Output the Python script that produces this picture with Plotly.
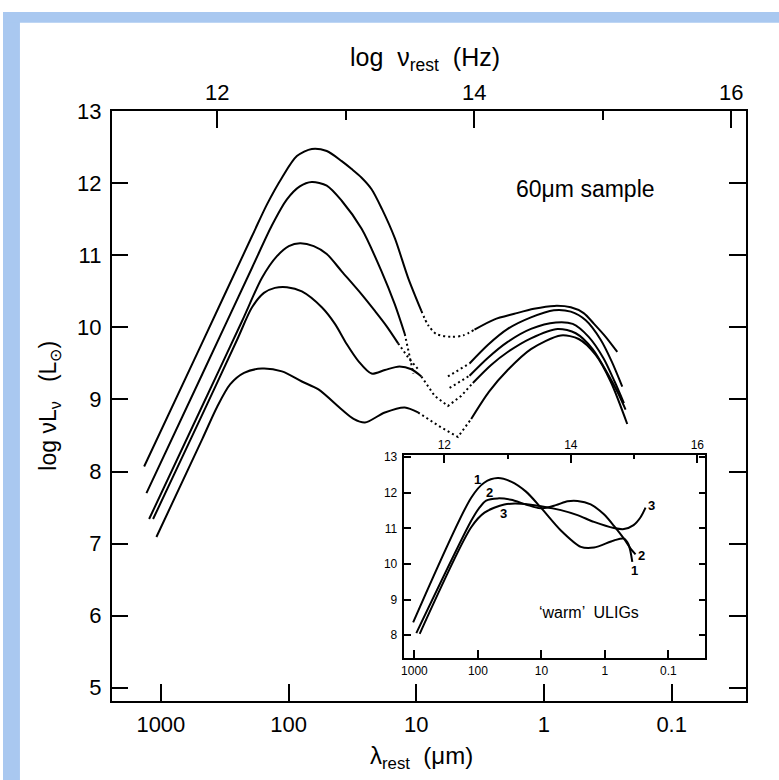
import plotly.graph_objects as go

W, H = 779, 780
FONT = "Liberation Sans, Arial, Helvetica, sans-serif"

# ---------------- main panel data: x = log10(lambda_rest / um), y = log nuL_nu (Lsun)
A_left_lam = [3.131, 2.676, 2.286, 2.169, 2.052, 1.935, 1.818, 1.701, 1.584, 1.506, 1.428, 1.350, 1.270, 1.168, 1.064, 0.960]
A_left_L   = [8.07, 9.79, 11.27, 11.71, 12.08, 12.38, 12.48, 12.45, 12.31, 12.20, 12.08, 11.92, 11.65, 11.24, 10.69, 10.23]
A_dot_lam  = [0.960, 0.906, 0.843, 0.726, 0.632, 0.544]
A_dot_L    = [10.23, 10.03, 9.91, 9.87, 9.89, 9.97]
A_right_lam = [0.544, 0.391, 0.232, 0.079, -0.080, -0.210, -0.311, -0.392, -0.483, -0.574]
A_right_L   = [9.97, 10.11, 10.19, 10.26, 10.30, 10.28, 10.20, 10.05, 9.87, 9.66]

B_left_lam = [3.113, 2.676, 2.286, 2.130, 2.013, 1.912, 1.818, 1.701, 1.584, 1.428, 1.272, 1.168, 1.090]
B_left_L   = [7.70, 9.35, 10.83, 11.42, 11.78, 11.96, 12.02, 11.97, 11.76, 11.37, 10.78, 10.32, 9.91]
B_dot1_lam = [1.090, 1.054, 1.023]
B_dot1_L   = [9.91, 9.62, 9.36]
B_dot2_lam = [0.752, 0.583]
B_dot2_L   = [9.32, 9.50]
B_right_lam = [0.583, 0.438, 0.284, 0.102, -0.077, -0.210, -0.327, -0.444, -0.530, -0.613]
B_right_L   = [9.50, 9.76, 9.98, 10.14, 10.24, 10.22, 10.10, 9.83, 9.53, 9.18]

C_left_lam = [3.092, 2.676, 2.364, 2.208, 2.091, 1.998, 1.910, 1.803, 1.701, 1.584, 1.428, 1.324, 1.233, 1.142]
C_left_L   = [7.34, 8.91, 10.09, 10.69, 10.99, 11.13, 11.17, 11.13, 11.02, 10.78, 10.46, 10.23, 10.02, 9.78]
C_dot1_lam = [1.142, 1.062, 0.976]
C_dot1_L   = [9.78, 9.58, 9.40]
C_dot2_lam = [0.739, 0.583]
C_dot2_L   = [9.16, 9.33]
C_right_lam = [0.583, 0.438, 0.284, 0.102, -0.093, -0.225, -0.350, -0.467, -0.553, -0.626]
C_right_L   = [9.33, 9.58, 9.80, 9.98, 10.07, 10.05, 9.87, 9.57, 9.25, 8.95]

D_left_lam = [3.061, 2.676, 2.403, 2.286, 2.193, 2.107, 2.013, 1.896, 1.740, 1.637, 1.545, 1.452, 1.350, 1.246, 1.132, 1.038, 0.960]
D_left_L   = [7.34, 8.79, 9.83, 10.28, 10.48, 10.55, 10.56, 10.50, 10.28, 10.05, 9.77, 9.53, 9.36, 9.41, 9.46, 9.42, 9.32]
D_dot_lam  = [0.960, 0.856, 0.752, 0.648, 0.557]
D_dot_L    = [9.32, 9.05, 8.91, 9.05, 9.23]
D_right_lam = [0.557, 0.414, 0.284, 0.102, -0.108, -0.249, -0.381, -0.498, -0.577, -0.639]
D_right_L   = [9.23, 9.48, 9.66, 9.85, 9.98, 9.92, 9.70, 9.36, 9.10, 8.86]

E_left_lam = [3.035, 2.676, 2.559, 2.458, 2.349, 2.208, 2.052, 1.896, 1.766, 1.584, 1.491, 1.402, 1.246, 1.090, 0.986]
E_left_L   = [7.09, 8.45, 8.90, 9.21, 9.37, 9.43, 9.39, 9.25, 9.14, 8.86, 8.73, 8.68, 8.82, 8.89, 8.82]
E_dot_lam  = [0.986, 0.830, 0.674, 0.570]
E_dot_L    = [8.82, 8.64, 8.48, 8.73]
E_right_lam = [0.570, 0.430, 0.284, 0.102, -0.132, -0.272, -0.405, -0.522, -0.652]
E_right_L   = [8.73, 9.11, 9.41, 9.70, 9.89, 9.84, 9.62, 9.25, 8.66]

# ---------------- inset ('warm' ULIGs) data
I1_lam = [3.02, 2.106, 1.902, 1.687, 1.478, 1.243, 1.008, 0.694, 0.380, 0.172, -0.142, -0.299, -0.373, -0.431]
I1_L   = [8.36, 11.86, 12.28, 12.41, 12.31, 12.03, 11.58, 10.94, 10.48, 10.46, 10.66, 10.71, 10.54, 10.06]
I2_lam = [2.97, 2.106, 1.976, 1.871, 1.687, 1.478, 1.243, 1.008, 0.773, 0.589, 0.432, 0.224, 0.020, -0.142, -0.299, -0.404, -0.482]
I2_L   = [8.06, 11.21, 11.58, 11.78, 11.84, 11.80, 11.67, 11.56, 11.65, 11.76, 11.77, 11.67, 11.40, 11.07, 10.71, 10.43, 10.27]
I3_lam = [2.917, 2.106, 1.897, 1.584, 1.322, 1.008, 0.694, 0.432, 0.172, -0.142, -0.299, -0.451, -0.561, -0.639]
I3_L   = [8.04, 11.03, 11.44, 11.67, 11.69, 11.62, 11.51, 11.37, 11.18, 11.01, 10.98, 11.09, 11.31, 11.58]

# labels of inset curves: (text, log lambda, log L)
inset_labels = [("1", 2.00, 12.38), ("2", 1.82, 12.01), ("3", 1.59, 11.42),
                ("3", -0.73, 11.63), ("2", -0.57, 10.25), ("1", -0.46, 9.83)]

lam_tickvals = [3, 2, 1, 0, -1]
lam_ticktext = ["1000", "100", "10", "1", "0.1"]
nu_major = [12, 14, 16]
nu_minor = [13, 15]
main_L_ticks = [5, 6, 7, 8, 9, 10, 11, 12, 13]
inset_L_ticks = [8, 9, 10, 11, 12, 13]

fig = go.Figure()


def seg(lam, L, dotted=False, xa="x", ya="y", spline=True):
    fig.add_trace(go.Scatter(
        x=lam, y=L, mode="lines", xaxis=xa, yaxis=ya,
        line=dict(color="black", width=2,
                  dash="2px,3px" if dotted else "solid",
                  shape="spline" if spline else "linear", smoothing=0.8),
        hoverinfo="skip", showlegend=False))


seg(A_left_lam, A_left_L)
seg(A_dot_lam, A_dot_L, dotted=True)
seg(A_right_lam, A_right_L)
seg(B_left_lam, B_left_L)
seg(B_dot1_lam, B_dot1_L, dotted=True, spline=False)
seg(B_dot2_lam, B_dot2_L, dotted=True, spline=False)
seg(B_right_lam, B_right_L)
seg(C_left_lam, C_left_L)
seg(C_dot1_lam, C_dot1_L, dotted=True, spline=False)
seg(C_dot2_lam, C_dot2_L, dotted=True, spline=False)
seg(C_right_lam, C_right_L)
seg(D_left_lam, D_left_L)
seg(D_dot_lam, D_dot_L, dotted=True, spline=False)
seg(D_right_lam, D_right_L)
seg(E_left_lam, E_left_L)
seg(E_dot_lam, E_dot_L, dotted=True, spline=False)
seg(E_right_lam, E_right_L)

seg(I1_lam, I1_L, xa="x3", ya="y3")
seg(I2_lam, I2_L, xa="x3", ya="y3")
seg(I3_lam, I3_L, xa="x3", ya="y3")

# empty traces so that the top (frequency) axes get drawn
for xa, ya in (("x2", "y"), ("x4", "y3")):
    fig.add_trace(go.Scatter(x=[], y=[], xaxis=xa, yaxis=ya, mode="lines",
                             hoverinfo="skip", showlegend=False))

px = lambda v: v / W
py = lambda v: 1 - v / H

axis_common = dict(showgrid=False, zeroline=False, showline=True, linecolor="black",
                   linewidth=1.5, tickcolor="black", tickwidth=1.5, ticks="inside")

main_xdom = [px(109), px(746)]
main_ydom = [py(700), py(101)]
ins_xdom = [px(403), px(705)]
ins_ydom = [py(656), py(450)]

fig.update_layout(
    width=W, height=H, margin=dict(l=0, r=0, t=0, b=0),
    paper_bgcolor="white", plot_bgcolor="rgba(0,0,0,0)",
    font=dict(family=FONT, color="black"),
    xaxis=dict(**axis_common, domain=main_xdom, anchor="y", range=[3.386, -1.583],
               tickmode="array", tickvals=lam_tickvals, ticktext=lam_ticktext,
               ticklen=17, tickfont=dict(size=22), ticklabelstandoff=3),
    xaxis2=dict(**axis_common, domain=main_xdom, anchor="y", overlaying="x", side="top",
                range=[11.178, 16.116], tickmode="array", tickvals=nu_major,
                ticklen=17, tickfont=dict(size=22), ticklabelstandoff=1,
                minor=dict(tickmode="array", tickvals=nu_minor, ticklen=9,
                           ticks="inside", tickwidth=1.5, tickcolor="black")),
    yaxis=dict(**axis_common, domain=main_ydom, anchor="x", range=[4.81, 13.0],
               tickmode="array", tickvals=main_L_ticks, ticklen=17, mirror="ticks",
               tickfont=dict(size=22), ticklabelstandoff=4),
    xaxis3=dict(**axis_common, domain=ins_xdom, anchor="y3", range=[3.157, -1.580],
                tickmode="array", tickvals=lam_tickvals, ticktext=lam_ticktext,
                ticklen=8, tickfont=dict(size=12), ticklabelstandoff=1),
    xaxis4=dict(**axis_common, domain=ins_xdom, anchor="y3", overlaying="x3", side="top",
                range=[11.370, 16.126], tickmode="array", tickvals=nu_major,
                ticklen=8, tickfont=dict(size=12), ticklabelstandoff=0,
                minor=dict(tickmode="array", tickvals=nu_minor, ticklen=4,
                           ticks="inside", tickwidth=1.5, tickcolor="black")),
    yaxis3=dict(**axis_common, domain=ins_ydom, anchor="x3", range=[7.365, 13.055],
                tickmode="array", tickvals=inset_L_ticks, ticklen=7, mirror="ticks",
                tickfont=dict(size=12), ticklabelstandoff=3),
)

blue = "#a9c8f0"
fig.add_shape(type="rect", xref="paper", yref="paper", x0=0, x1=px(17), y0=0, y1=1,
              fillcolor=blue, line=dict(width=0), layer="below")
fig.add_shape(type="rect", xref="paper", yref="paper", x0=0, x1=1, y0=py(11), y1=1,
              fillcolor=blue, line=dict(width=0), layer="below")

ann = [
    dict(text="log  ν<sub>rest</sub>  (Hz)", x=px(424), y=py(48), xref="paper", yref="paper",
         font=dict(size=25)),
    dict(text="λ<sub>rest</sub>  (μm)", x=px(420), y=py(757), xref="paper", yref="paper",
         font=dict(size=24)),
    dict(text="log νL<sub>ν</sub>   (L<sub>⊙</sub>)", x=px(47), y=py(400), xref="paper",
         yref="paper", textangle=-90, font=dict(size=23)),
    dict(text="60μm sample", x=-0.327, y=11.92, xref="x", yref="y", font=dict(size=23)),
    dict(text="‘warm’  ULIGs", x=0.25, y=8.64, xref="x3", yref="y3", font=dict(size=16)),
]
for t, lx, ly in inset_labels:
    ann.append(dict(text="<b>" + t + "</b>", x=lx, y=ly, xref="x3", yref="y3",
                    font=dict(size=13, color="black")))
for a in ann:
    a.setdefault("showarrow", False)
    a.setdefault("xanchor", "center")
    a.setdefault("yanchor", "middle")
    fig.add_annotation(**a)

# remove the browser's default page margin so the figure sits at the window corner
fig.write_html("out.html",
               post_script="document.body.style.margin='0';document.body.style.overflow='hidden';")
